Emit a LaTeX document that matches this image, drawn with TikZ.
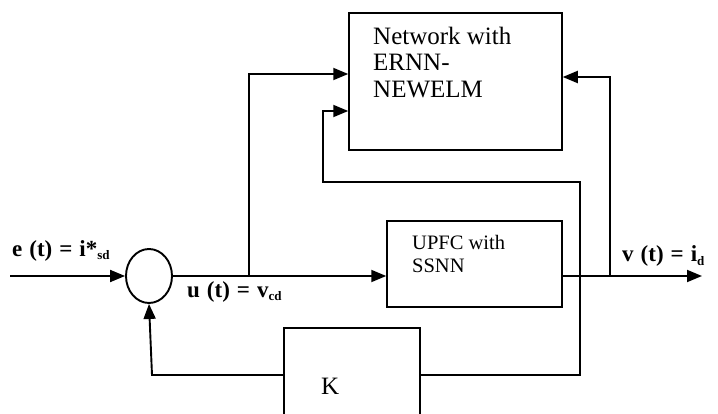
\documentclass[tikz,border=0pt]{standalone}
\usepackage{fontspec}
\setmainfont{Liberation Serif}
\usetikzlibrary{arrows.meta,shapes.geometric}
\newcommand{\gp}{\hspace{7pt}}
\newcommand{\sbs}[1]{\raisebox{-3pt}{\fontsize{13}{13}\selectfont #1}}
\begin{document}
\begin{tikzpicture}[x=1pt,y=-1pt,
 blk/.style={draw,line width=1.5pt,rectangle,inner sep=0pt},
 wire/.style={line width=1.9pt},
 arr/.style={wire,-{Triangle[length=15pt,width=12pt]}},
 txt/.style={anchor=base west,inner sep=0pt},
 lbl/.style={txt,font=\fontsize{23}{26}\selectfont\bfseries},
 big/.style={txt,font=\fontsize{25}{27}\selectfont},
 mid/.style={txt,font=\fontsize{20.5}{23}\selectfont}]
\useasboundingbox (0,0) rectangle (718,414);
\clip (0,0) rectangle (718,414);
% blocks
\node[blk,minimum width=213pt,minimum height=137pt] (net) at (455.5,81.5) {};
\node[blk,minimum width=175pt,minimum height=86pt] (upfc) at (474.5,264) {};
\node[blk,minimum width=136pt,minimum height=112pt] (k) at (352,384) {};
\node[draw,ellipse,line width=1.9pt,minimum width=46pt,minimum height=54pt,inner sep=0pt] (sum) at (149,276) {};
% texts
\node[big] (n1) at (373,45) {Network with};
\node[big] (n2) at (373,71) {ERNN-};
\node[big] (n3) at (373,98) {NEWELM};
\node[mid] (u1) at (412,250) {UPFC with};
\node[mid] (u2) at (412,273) {SSNN};
\node[big] (kl) at (321,394) {K};
\node[lbl] (le) at (12,257) {e\gp(t)\gp=\gp i*\sbs{sd}};
\node[lbl] (lu) at (187,298) {u\gp(t)\gp=\gp v\sbs{cd}};
\node[lbl] (lv) at (622,262) {v\gp(t)\gp=\gp i\sbs{d}};
% coordinates
\coordinate (in) at (10,276);
\coordinate (b1) at (249,276);
\coordinate (t1) at (249,74);
\coordinate (out) at (702,276);
\coordinate (fb) at (610,276);
\coordinate (t2) at (610,77);
\coordinate (c1) at (580,375);
\coordinate (c2) at (580,182);
\coordinate (c3) at (323,182);
\coordinate (c4) at (323,111);
\coordinate (kb) at (152,375);
% connectors
\draw[arr] (in) -- (sum.west);
\draw[arr] (sum.east) -- (sum.east -| upfc.west);
\draw[arr] (b1) -- (t1) -- (t1 -| net.west);
\draw[arr] (upfc.east |- out) -- (out);
\draw[arr] (fb) -- (t2) -- (t2 -| net.east);
\draw[arr] (k.east |- c1) -- (c1) -- (c2) -- (c3) -- (c4) -- (c4 -| net.west);
\draw[arr] (k.west |- kb) -- (kb) -- (sum.south);
\end{tikzpicture}
\end{document}
